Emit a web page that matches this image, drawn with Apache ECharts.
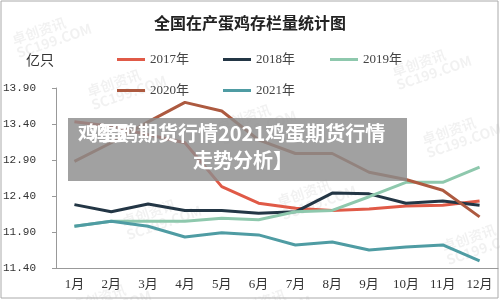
<!DOCTYPE html>
<html>
<head>
<meta charset="utf-8">
<script src="https://cdn.jsdelivr.net/npm/echarts@6/dist/echarts.min.js"></script>
<style>
  html, body { margin: 0; padding: 0; background: #fff; }
  #main { width: 500px; height: 300px; }
</style>
</head>
<body>
<div id="main"></div>
<script>
// 月份
const months = ["1月", "2月", "3月", "4月", "5月", "6月", "7月", "8月", "9月", "10月", "11月", "12月"];
// y軸刻度
const yTicks = [11.4, 11.9, 12.4, 12.9, 13.4, 13.9];

// 各年存欄量（億隻）
const y2017 = [13.43, 13.37, 13.25, 13.14, 12.53, 12.30, 12.23, 12.20, 12.22, 12.26, 12.27, 12.33];
const y2018 = [12.28, 12.18, 12.29, 12.20, 12.20, 12.16, 12.18, 12.44, 12.43, 12.30, 12.33, 12.27];
const y2019 = [11.98, 12.05, 12.05, 12.05, 12.09, 12.07, 12.18, 12.20, 12.39, 12.59, 12.59, 12.80];
const y2020 = [12.88, 13.14, 13.43, 13.70, 13.58, 13.18, 12.99, 12.99, 12.73, 12.63, 12.48, 12.11];
const y2021 = [11.98, 12.05, 11.98, 11.83, 11.89, 11.86, 11.72, 11.76, 11.65, 11.69, 11.72, 11.50];

const seriesList = [
  { name: "2017年", data: y2017, color: "#e05a47" },
  { name: "2018年", data: y2018, color: "#233645" },
  { name: "2019年", data: y2019, color: "#8ec8ad" },
  { name: "2020年", data: y2020, color: "#ad5a40" },
  { name: "2021年", data: y2021, color: "#4f9ca3" },
];

// 圖例位置
const legendPos = [
  [112, 48], [218, 48], [325, 48],
  [112, 79], [218, 79],
];

const serifFont = "'Liberation Serif', 'Noto Sans CJK SC', serif";

// 水印
const marks = [
  [10, 8], [85, 60], [215, 95], [390, 40], [420, 108],
  [120, 190], [275, 170], [440, 215], [70, 275], [230, 280],
];

const chart = echarts.init(document.getElementById("main"));

const graphics = [];
marks.forEach((m) => {
  graphics.push({
    type: "text",
    left: m[0],
    top: m[1],
    rotation: 0.33,
    silent: true,
    style: {
      text: "卓创资讯\nSC199.COM",
      fill: "rgba(0,0,0,0.055)",
      font: "bold 14px 'Noto Sans CJK SC'",
      lineHeight: 14,
    },
    z: 0,
  });
});
graphics.push({
  type: "rect",
  shape: { x: 1, y: 1, width: 497, height: 297 },
  style: { fill: "none", stroke: "#aaa", lineWidth: 1 },
  silent: true,
});
graphics.push({
  type: "text",
  left: 26,
  top: 54,
  style: { text: "亿只", fill: "#333", font: "14px " + serifFont },
});
// 上面的灰色遮罩
graphics.push({
  type: "rect",
  shape: { x: 68, y: 118, width: 339, height: 63 },
  style: { fill: "rgba(140,140,140,0.82)" },
  z: 100,
});
graphics.push({
  type: "text",
  left: 78,
  top: 123,
  z: 101,
  style: { text: "鸡蛋鸡期货行情2021鸡蛋期货行情", fill: "#fff", font: "bold 20px 'Noto Sans CJK SC'" },
});
graphics.push({
  type: "text",
  left: 89,
  top: 123,
  z: 101,
  style: { text: "鸡蛋", fill: "#fff", font: "bold 20px 'Noto Sans CJK SC'" },
});
graphics.push({
  type: "text",
  left: 193,
  top: 150,
  z: 101,
  style: { text: "走势分析】", fill: "#fff", font: "bold 20px 'Noto Sans CJK SC'" },
});

const option = {
  animation: false,
  backgroundColor: "#fff",
  title: {
    text: "全国在产蛋鸡存栏量统计图",
    left: "center",
    top: 12,
    textStyle: { fontSize: 16, fontWeight: "bold", color: "#222", fontFamily: serifFont },
  },
  legend: seriesList.map((s, i) => ({
    data: [s.name],
    left: legendPos[i][0],
    top: legendPos[i][1],
    icon: "rect",
    itemWidth: 28,
    itemHeight: 3,
    textStyle: { fontSize: 13, color: "#444", fontFamily: serifFont },
  })),
  grid: { left: 55, right: 2, top: 88, bottom: 32 },
  xAxis: {
    type: "category",
    data: months,
    axisLine: { lineStyle: { color: "#999" } },
    axisTick: { length: 5, lineStyle: { color: "#999" } },
    axisLabel: { fontSize: 13, color: "#333", fontFamily: serifFont, margin: 10 },
  },
  yAxis: {
    type: "value",
    min: yTicks[0],
    max: yTicks[yTicks.length - 1],
    splitLine: { show: false },
    axisLine: { show: true, lineStyle: { color: "#999" } },
    axisTick: { show: true, length: 4, lineStyle: { color: "#999" }, customValues: yTicks },
    axisLabel: {
      customValues: yTicks,
      formatter: (v) => v.toFixed(2),
      fontSize: 11,
      color: "#333",
      fontFamily: "'Liberation Mono', monospace",
      margin: 20,
    },
  },
  graphic: graphics,
  series: seriesList.map((s) => ({
    name: s.name,
    type: "line",
    data: s.data,
    showSymbol: false,
    symbol: "none",
    color: s.color,
    lineStyle: { width: 3, color: s.color },
    z: 5,
  })),
};

chart.setOption(option);
</script>
</body>
</html>
